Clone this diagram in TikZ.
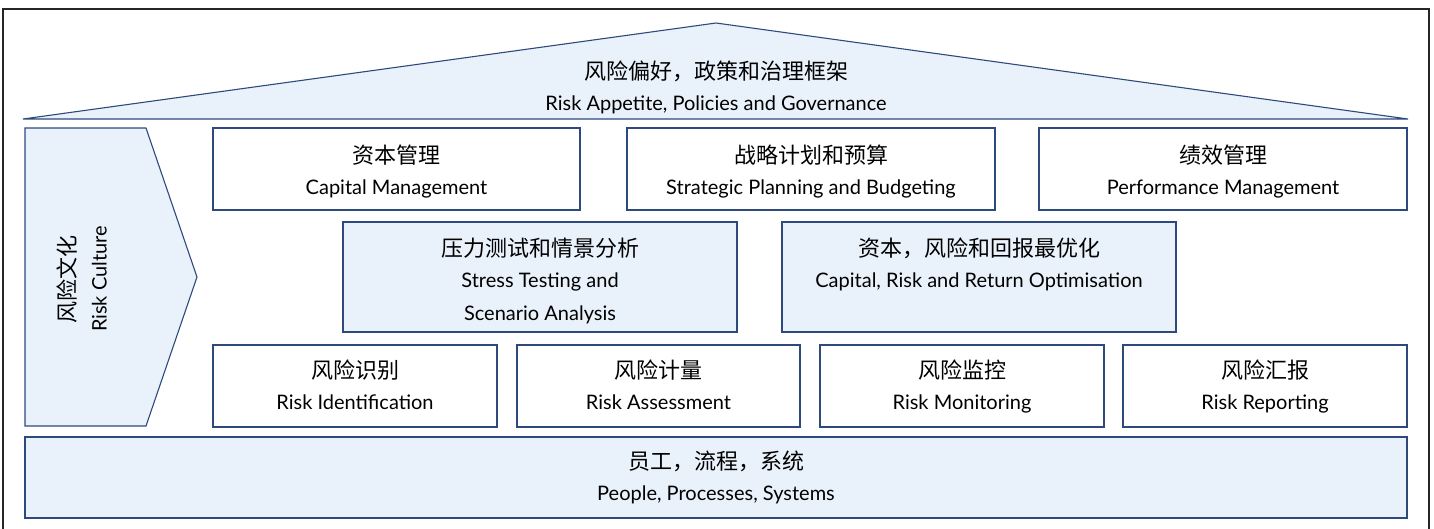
\documentclass[tikz,border=0pt]{standalone}
\usepackage{fontspec}
\setmainfont{Lato}
\newfontfamily\cjk{Noto Sans CJK SC}
\definecolor{boxline}{HTML}{2E4A7D}
\definecolor{boxfill}{HTML}{E9F2FB}
\definecolor{framecol}{HTML}{262626}
\newcommand\zh[1]{{\cjk\fontsize{22}{31}\selectfont #1\strut}}
\newcommand\en[1]{#1\strut}
\begin{document}
\begin{tikzpicture}[x=1pt,y=-1pt,
  txt/.style={align=center, inner sep=0pt, font=\fontsize{20}{31}\selectfont},
  box/.style={draw=boxline, line width=1.1pt, inner sep=0pt},
  wbox/.style={box, fill=white},
  bbox/.style={box, fill=boxfill},
  shapeline/.style={draw=boxline, line width=1.1pt, fill=boxfill, line join=miter}]
\useasboundingbox (0,0) rectangle (1434,528);
% outer frame
\draw[line width=1.2pt, color=framecol] (3,540) -- (3,9) -- (1429,9) -- (1429,540);
% roof
\coordinate (roofL) at (23,119);
\coordinate (roofT) at (716,23);
\coordinate (roofR) at (1408,119);
\path[shapeline] (roofL) -- (roofT) -- (roofR) -- cycle;
\node[txt] (roof) at (716,88.5) {\zh{风险偏好，政策和治理框架}\\\en{Risk Appetite, Policies and Governance}};
% risk culture arrow
\coordinate (cA) at (25,128);
\coordinate (cB) at (146,128);
\coordinate (cC) at (197,277);
\coordinate (cD) at (146,426);
\coordinate (cE) at (25,426);
\path[shapeline] (cA) -- (cB) -- (cC) -- (cD) -- (cE) -- cycle;
\node[txt, rotate=90] (culture) at (85,279) {\zh{风险文化}\\\en{Risk Culture}};
% row 1
\node[wbox, minimum width=367pt, minimum height=82pt] (cap) at (396.5,169) {};
\node[wbox, minimum width=368pt, minimum height=82pt] (strat) at (811,169) {};
\node[wbox, minimum width=368pt, minimum height=82pt] (perf) at (1223,169) {};
\node[txt] (capT) at (396.5,173) {\zh{资本管理}\\\en{Capital Management}};
\node[txt] (stratT) at (811,173) {\zh{战略计划和预算}\\\en{Strategic Planning and Budgeting}};
\node[txt] (perfT) at (1223,173) {\zh{绩效管理}\\\en{Performance Management}};
% row 2
\node[bbox, minimum width=394pt, minimum height=110pt] (stress) at (540,277) {};
\node[bbox, minimum width=394pt, minimum height=110pt] (opt) at (979,277) {};
\node[txt] (stressT) at (540,282.4) {\zh{压力测试和情景分析}\\\en{Stress Testing and}\\[2pt]\en{Scenario Analysis}};
\node[txt] (optT) at (979,265.3) {\zh{资本，风险和回报最优化}\\\en{Capital, Risk and Return Optimisation}};
% row 3
\node[wbox, minimum width=284pt, minimum height=82pt] (ident) at (355,386) {};
\node[wbox, minimum width=283pt, minimum height=82pt] (assess) at (658.5,386) {};
\node[wbox, minimum width=284pt, minimum height=82pt] (monit) at (962,386) {};
\node[wbox, minimum width=284pt, minimum height=82pt] (report) at (1265,386) {};
\node[txt] (identT) at (355,388) {\zh{风险识别}\\\en{Risk Identification}};
\node[txt] (assessT) at (658.5,388) {\zh{风险计量}\\\en{Risk Assessment}};
\node[txt] (monitT) at (962,388) {\zh{风险监控}\\\en{Risk Monitoring}};
\node[txt] (reportT) at (1265,388) {\zh{风险汇报}\\\en{Risk Reporting}};
% bottom
\node[bbox, minimum width=1382pt, minimum height=81pt] (people) at (716,477.5) {};
\node[txt] (peopleT) at (716,479) {\zh{员工，流程，系统}\\\en{People, Processes, Systems}};
\end{tikzpicture}
\end{document}
